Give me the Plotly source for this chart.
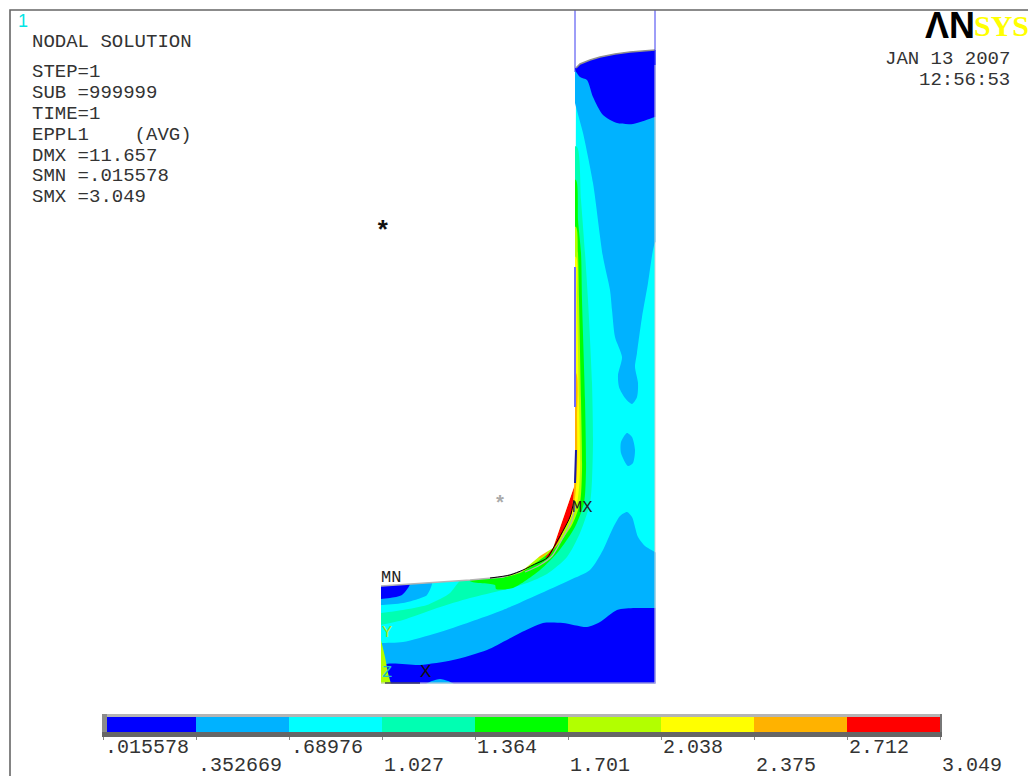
import plotly.graph_objects as go

# --- colour scale -----------------------------------------------------------
LEVELS = [0.015578, 0.352669, 0.68976, 1.027, 1.364, 1.701, 2.038, 2.375, 2.712, 3.049]
LEVEL_TEXT = [".015578", ".352669", ".68976", "1.027", "1.364", "1.701", "2.038", "2.375", "2.712", "3.049"]
BAND_COLORS = ["#0000ff", "#00b2ff", "#00ffff", "#00ffb2", "#00ff00", "#b2ff00", "#ffff00", "#ffb200", "#ff0000"]
BLUE, SKY, CYAN, TEAL, GREEN, LIME, YELLOW, ORANGE, RED = BAND_COLORS

# --- model outlines (screen-calibrated model coordinates) -------------------
INNER_EDGE = [(381, 586), (440, 582), (470, 580), (503, 577), (522, 571), (540, 556), (553, 548), (574, 487), (575, 470)]
TOP_ARC = [(576, 68), (580, 64), (590, 60), (600, 57), (615, 54), (630, 52), (655, 50)]
SHAPE = [(381, 683), (655, 683)] + TOP_ARC[::-1] + INNER_EDGE[::-1]

OUTSIDE_LEFT = INNER_EDGE + [(575, 60), (340, 60), (340, 712), (381, 712)]
OUTSIDE_TOP = TOP_ARC + [(700, 50), (700, 12), (560, 12), (560, 68)]
OUTSIDE_RIGHT = [(655.5, 12), (720, 12), (720, 712), (655.5, 712)]
OUTSIDE_BELOW = [(340, 683.5), (720, 683.5), (720, 712), (340, 712)]

SKY_LOW = [(372, 643), (381, 643), (403, 642), (437, 633), (470, 622), (503, 610), (537, 595), (570, 580), (590, 570),
           (603, 550), (612, 530), (620, 516), (627, 512), (632, 517), (638, 537), (645, 546), (655, 552), (662, 557),
           (662, 690), (372, 690)]
BLUE_LOW = [(385, 665), (420, 665), (453, 660), (487, 650), (520, 633), (543, 623), (563, 623), (587, 627),
            (600, 622), (617, 610), (635, 608), (655, 608), (662, 608), (662, 690), (393, 690)]
SKY_PATCH = [(425, 685), (432, 681), (440, 679), (448, 681), (455, 685), (440, 688)]
LIME_WEDGE = [(381, 640), (385, 657), (388, 673), (391, 684), (381, 684)]
SKY_TOP = [(568, 70), (570, 60), (662, 40), (662, 235), (655, 243), (653, 250), (648, 283), (642, 317), (637, 353),
           (635, 367), (638, 383), (637, 397), (632, 404), (625, 398), (619, 387), (618, 375), (622, 357), (615, 337),
           (612, 310), (610, 290), (603, 257), (593, 183), (583, 133), (575, 103)]
BLUE_TOP = [(575, 70), (570, 60), (600, 40), (662, 40), (662, 115), (655, 117), (633, 124), (617, 123),
            (603, 115), (593, 97), (587, 80), (580, 77)]
SKY_BLOB = [(627, 433), (621, 442), (621, 453), (628, 466), (633, 463), (635, 450), (632, 437)]
CORNER_SKY = [(372, 605), (381, 605), (403, 603), (418, 599), (427, 595), (432, 580), (372, 578)]
CORNER_BLUE = [(372, 599), (381, 599), (390, 598), (402, 595), (410, 583), (372, 580)]

TEAL_BAND = [(372, 614), (381, 613), (403, 610), (427, 605), (442, 598), (450, 593), (458, 583), (470, 570), (530, 555),
             (568, 470), (570, 147), (577, 147), (581, 200), (585, 253), (588, 300), (592, 383), (593, 440), (592, 480),
             (590, 503), (580, 533), (567, 557), (547, 574), (527, 583), (503, 590), (470, 598), (437, 608), (403, 620),
             (381, 625), (372, 627)]
GREEN_BAND = [(470, 581), (470, 570), (530, 555), (568, 470), (570, 180), (576, 180), (578, 220), (581, 253), (582, 300),
              (585, 400), (586, 470), (584, 503), (575, 527), (558, 552), (540, 570), (513, 588), (496, 589), (495, 585)]
LIME_BAND = [(500, 577), (500, 565), (535, 550), (568, 470), (570, 227), (576, 227), (578, 253), (579, 300), (581, 400),
             (582, 470), (580, 503), (572, 525), (555, 548), (537, 562), (520, 573)]
YELLOW_BAND = [(522, 571), (515, 560), (545, 540), (568, 470), (570, 257), (576, 257), (577, 300), (579, 400), (580, 470),
               (577, 503), (568, 523), (550, 548), (533, 560)]
ORANGE_BAND = [(540, 558), (530, 548), (550, 530), (568, 470), (570, 373), (576, 373), (577, 420), (577, 470), (574, 503),
               (565, 520), (553, 545)]
RED_PATCH = [(574, 487), (572, 513), (558, 542), (549, 557), (545, 558), (553, 548)]

BLACK_EDGE = [(490, 578), (510, 575), (523, 570), (533, 565), (547, 558), (555, 545), (570, 517), (574, 500)]
GRAY_EDGE = [(525, 572), (540, 565), (552, 556), (560, 543), (572, 520), (575, 505)]
BLACK_FOOT = [(385, 683), (420, 683)]
GUIDE_LEFT = [(575, 10), (575, 72)]
GUIDE_RIGHT = [(655, 10), (655, 65)]
GUIDE_MID = [(575, 267), (575, 407)]
GUIDE_LOW = [(576, 450), (575, 483)]
FRAME = [(10, 776), (10, 10), (1028, 10)]

# --- texts ------------------------------------------------------------------
INFO = [("NODAL SOLUTION", 42), ("STEP=1", 72), ("SUB =999999", 93), ("TIME=1", 114),
        ("EPPL1\u00a0\u00a0\u00a0\u00a0(AVG)", 135), ("DMX =11.657", 156), ("SMN =.015578", 176), ("SMX =3.049", 197)]
MONO = "Liberation Mono"
INK = "#333333"


def xy(points):
    return [p[0] for p in points], [p[1] for p in points]


fig = go.Figure()


def area(points, color, smooth=True):
    x, y = xy(points)
    line = dict(width=0, color=color, simplify=False)
    if smooth:
        line.update(shape="spline", smoothing=0.7)
    fig.add_trace(go.Scatter(x=x + x[:1], y=y + y[:1], fill="toself", fillcolor=color, mode="lines",
                             line=line, hoverinfo="skip", showlegend=False))


def stroke(points, color, width, smooth=False):
    x, y = xy(points)
    line = dict(width=width, color=color)
    if smooth:
        line.update(shape="spline", smoothing=0.7)
    fig.add_trace(go.Scatter(x=x, y=y, mode="lines", line=line, hoverinfo="skip", showlegend=False))


area(SHAPE, CYAN, smooth=False)
area(SKY_LOW, SKY)
area(BLUE_LOW, BLUE)
area(SKY_PATCH, SKY)
area(LIME_WEDGE, LIME, smooth=False)
area(SKY_TOP, SKY)
area(BLUE_TOP, BLUE)
area(SKY_BLOB, SKY)
area(TEAL_BAND, TEAL)
area(GREEN_BAND, GREEN)
area(LIME_BAND, LIME)
area(YELLOW_BAND, YELLOW)
area(ORANGE_BAND, ORANGE)
area(RED_PATCH, RED, smooth=False)
area(CORNER_SKY, SKY)
area(CORNER_BLUE, BLUE)
for mask in (OUTSIDE_LEFT, OUTSIDE_TOP, OUTSIDE_RIGHT, OUTSIDE_BELOW):
    area(mask, "#ffffff", smooth=False)

stroke(INNER_EDGE[:5], "#b4b4b4", 1.5)
stroke([(655, 683), (655, 65)], "#d0d0d0", 1)
stroke([(381, 683), (655, 683)], "#d0d0d0", 1)
stroke(TOP_ARC, "#909090", 1.5)
stroke(GRAY_EDGE, "#b0b0b0", 1.2, smooth=True)
stroke(BLACK_EDGE, "#000000", 1, smooth=True)
stroke(BLACK_FOOT, "#000033", 1.2)
stroke(GUIDE_LEFT, "#3c3cf0", 1)
stroke(GUIDE_RIGHT, "#3c3cf0", 1)
stroke(GUIDE_MID, "#6a6aff", 2)
stroke(GUIDE_LOW, "#1a1aa0", 2)
stroke(FRAME, "#666666", 1.6)

# legend bar on its own value axis
for i, color in enumerate(BAND_COLORS):
    fig.add_trace(go.Bar(x=[LEVELS[i + 1] - LEVELS[i]], base=[LEVELS[i]], y=[0.5], width=[1], orientation="h",
                         marker=dict(color=color, line=dict(width=0)), xaxis="x2", yaxis="y2",
                         hoverinfo="skip", showlegend=False))

W, H = 1028, 776
notes = []


def note(text, x, y, size, color=INK, family=MONO, anchor="left", xref="x", weight=None, **kw):
    font = dict(family=family, size=size, color=color)
    if weight:
        font["weight"] = weight
    notes.append(dict(text=text, x=x, y=y, xref=xref, yref="y", xanchor=anchor, yanchor="middle",
                      showarrow=False, font=font, borderpad=0, **kw))


for text, y in INFO:
    note(text, 31, y, 19)
note("JAN 13 2007", 1011, 59, 19, anchor="right")
note("12:56:53", 1011, 80, 19, anchor="right")
note("1", 17, 21, 18, color="#00e5e5", family="Liberation Sans")
note("\u039bN", 924, 25, 36, color="#000000", family="Liberation Sans", weight="bold")
note("SYS", 973, 25, 30, color="#ffff00", family="Liberation Serif", weight="bold")
note("MN", 380, 577, 17, color="#222222")
note("MX", 571, 507, 17, color="#222222")
note("Y", 381, 632, 17, color="#a8e820")
note("Z", 381, 672, 17, color="#20c0c0")
note("X", 419, 672, 19, color="#111111")
note("*", 374, 232, 26, color="#111111", weight="bold")
note("*", 493, 504, 20, color="#aaaaaa", weight="bold")

for i, (value, text) in enumerate(zip(LEVELS, LEVEL_TEXT)):
    note(text, value, 747 if i % 2 == 0 else 765, 20, xref="x2", xshift=1)

frame_shapes = [
    dict(type="rect", xref="x", yref="y", x0=102, x1=942, y0=714, y1=717, fillcolor="#b4b4b4", line_width=0),
    dict(type="rect", xref="x", yref="y", x0=102, x1=107, y0=714, y1=737, fillcolor="#8c8c8c", line_width=0),
    dict(type="rect", xref="x", yref="y", x0=940, x1=942, y0=714, y1=737, fillcolor="#777777", line_width=0),
    dict(type="rect", xref="x", yref="y", x0=102, x1=942, y0=732, y1=737, fillcolor="#666666", line_width=0),
]

fig.update_layout(
    width=W, height=H, margin=dict(l=0, r=0, t=0, b=0), paper_bgcolor="white", plot_bgcolor="white",
    showlegend=False, bargap=0, barmode="overlay", annotations=notes, shapes=frame_shapes,
    xaxis=dict(range=[0, W], visible=False, domain=[0, 1], fixedrange=True),
    yaxis=dict(range=[H, 0], visible=False, domain=[0, 1], fixedrange=True),
    xaxis2=dict(domain=[103 / W, 940 / W], range=[LEVELS[0], LEVELS[-1]], anchor="y2", showgrid=False, zeroline=False,
                showline=False, tickmode="array", tickvals=LEVELS, ticks="outside", ticklen=7, tickwidth=1,
                tickcolor="#888888", showticklabels=False, fixedrange=True),
    yaxis2=dict(domain=[1 - 732 / H, 1 - 717 / H], range=[0, 1], anchor="x2", visible=False, fixedrange=True),
)

fig.write_html("out.html", config=dict(displayModeBar=False),
               post_script="document.body.style.margin='0';document.body.style.overflow='hidden';")
